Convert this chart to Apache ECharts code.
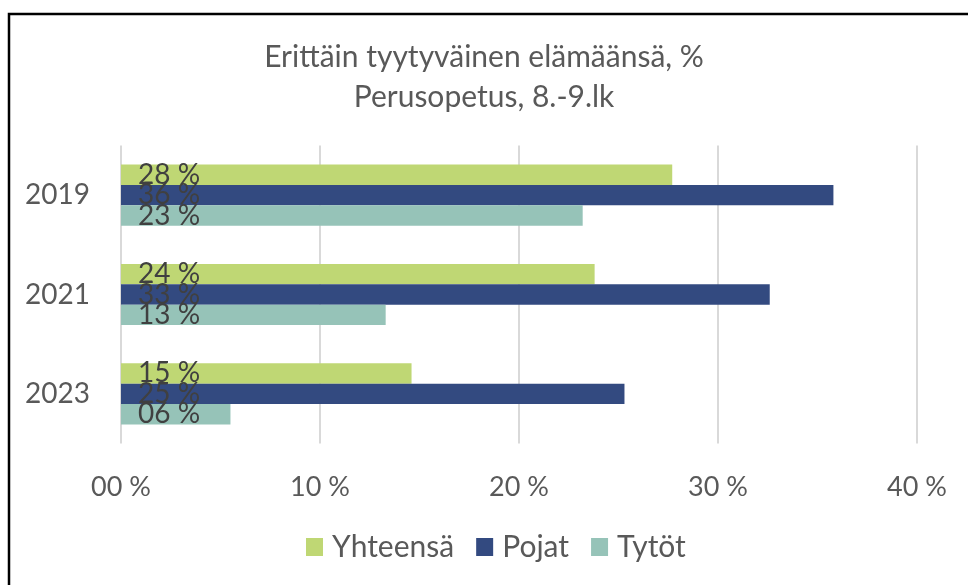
<!DOCTYPE html>
<html><head><meta charset="utf-8">
<script src="https://cdn.jsdelivr.net/npm/echarts@6/dist/echarts.min.js"></script>
<style>html,body{margin:0;padding:0;background:#fff}#c{width:968px;height:585px}</style>
</head><body><div id="c"></div>
<script>
const categories = ['2019', '2021', '2023'];
const seriesNames = ['Yhteensä', 'Pojat', 'Tytöt'];
const yhteensa = [27.7, 23.8, 14.6];
const pojat = [35.8, 32.6, 25.3];
const tytot = [23.2, 13.3, 5.5];
const xTicks = [0, 10, 20, 30, 40];
const colors = ['#bfd774', '#334a80', '#96c3b8'];

const FONT = 'Lato';
const pad2 = v => (Math.round(v) < 10 ? '0' : '') + Math.round(v) + ' %';

const chart = echarts.init(document.getElementById('c'), null, {renderer: 'canvas'});
const mk = (name, data, color) => ({
  name, type: 'bar', data, barGap: '0%', barCategoryGap: '38.4%',
  itemStyle: {color},
  label: {show: true, position: 'insideLeft', distance: 17, formatter: p => pad2(p.value),
    color: '#404040', fontFamily: FONT, fontSize: 28},
  z: 2
});
chart.setOption({
  animation: false,
  color: colors,
  title: {text: 'Erittäin tyytyväinen elämäänsä, %\nPerusopetus, 8.-9.lk', left: 'center', top: 37, padding: 0,
    textStyle: {fontFamily: FONT, fontSize: 30, fontWeight: 'normal', color: '#595959', lineHeight: 40}},
  legend: {data: seriesNames, top: 532, left: 306, padding: 0, itemWidth: 17, itemHeight: 18, itemGap: 22,
    icon: 'rect', textStyle: {fontFamily: FONT, fontSize: 30, color: '#595959', padding: [0,0,0,4]}},
  grid: {left: 121, right: 51, top: 145.5, bottom: 141.5, containLabel: false},
  xAxis: {type: 'value', min: 0, max: 40, interval: 10,
    axisLine: {show: false}, axisTick: {show: false},
    splitLine: {lineStyle: {color: '#d9d9d9', width: 2}},
    axisLabel: {margin: 30, fontFamily: FONT, fontSize: 27, color: '#595959', formatter: v => pad2(v)}},
  yAxis: {type: 'category', data: categories, inverse: true,
    axisLine: {show: false}, axisTick: {show: false},
    axisLabel: {margin: 31, fontFamily: FONT, fontSize: 28, color: '#595959'}},
  series: [mk(seriesNames[0], yhteensa, colors[0]), mk(seriesNames[1], pojat, colors[1]), mk(seriesNames[2], tytot, colors[2])],
  graphic: [{type: 'rect', shape: {x: 9, y: 14, width: 980, height: 600}, style: {fill: null, stroke: '#000', lineWidth: 2.5}, silent: true}]
});
</script></body></html>
